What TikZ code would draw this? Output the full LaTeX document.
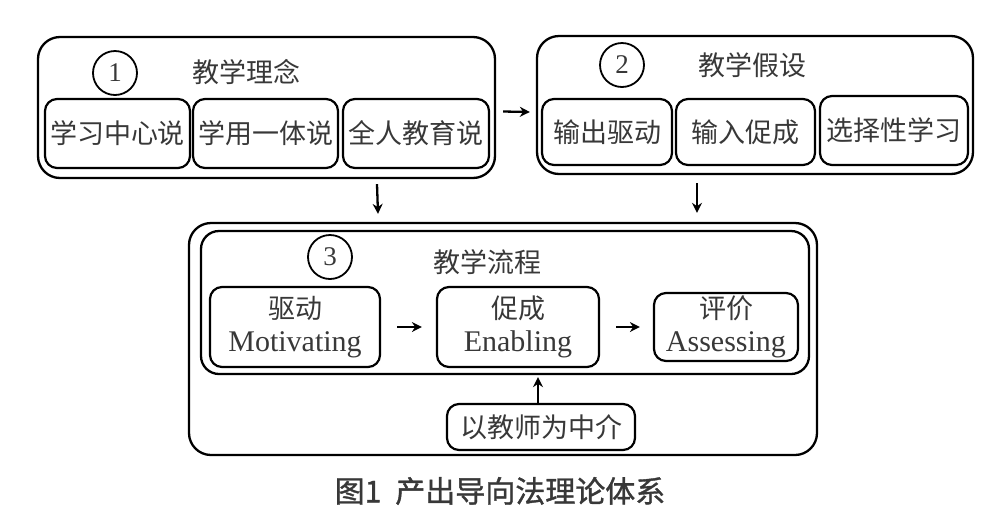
\documentclass[tikz,border=0pt]{standalone}
\usepackage{fontspec}
\setmainfont{Liberation Serif}
\newfontfamily\cjk{Noto Sans CJK SC}
\newfontfamily\cjkcap[FakeBold=1.2]{Noto Sans CJK SC}
\usetikzlibrary{arrows.meta}
\definecolor{txt}{HTML}{383838}
\tikzset{
  outerbox/.style={draw, line width=2.3pt, rounded corners=22pt, inner sep=0pt},
  subbox/.style={draw, line width=2.2pt, rounded corners=12pt, inner sep=0pt, text=txt,
    font=\cjk\fontsize{27}{30}\selectfont},
  flowbox/.style={draw, line width=2.2pt, rounded corners=12pt, inner sep=0pt, text=txt,
    align=center, font=\fontsize{30}{33}\selectfont},
  numcirc/.style={circle, draw, line width=1.8pt, minimum size=44pt, inner sep=0pt, text=txt,
    font=\fontsize{27}{27}\selectfont},
  ttl/.style={text=txt, inner sep=0pt, font=\cjk\fontsize{27}{30}\selectfont},
  arr/.style={-{Stealth[length=10pt,width=10pt]}, line width=2.3pt},
}
\begin{document}
\begin{tikzpicture}[x=1pt,y=-1pt]
\useasboundingbox (0,0) rectangle (997,515);
% box 1
\node[outerbox, minimum width=457pt, minimum height=141pt] (b1) at (266.5,107.5) {};
\node[numcirc] (c1) at (115,73) {1};
\node[ttl] (t1) at (246,72) {教学理念};
\node[subbox, minimum width=145pt, minimum height=69pt] (s1) at (117.5,133.5) {学习中心说};
\node[subbox, minimum width=145pt, minimum height=69pt] (s2) at (265.5,133.5) {学用一体说};
\node[subbox, minimum width=146pt, minimum height=69pt] (s3) at (416,133.5) {全人教育说};
% box 2
\node[outerbox, minimum width=436pt, minimum height=138pt] (b2) at (755,105) {};
\node[numcirc] (c2) at (622,65) {2};
\node[ttl] (t2) at (752,65) {教学假设};
\node[subbox, minimum width=130pt, minimum height=66pt] (s4) at (607,132) {输出驱动};
\node[subbox, minimum width=139pt, minimum height=66pt] (s5) at (745.5,132) {输入促成};
\node[subbox, minimum width=148pt, minimum height=69pt] (s6) at (894,130.5) {选择性学习};
% box 3
\node[outerbox, minimum width=628pt, minimum height=232pt] (b3) at (503,339) {};
\node[outerbox, rounded corners=18pt, minimum width=608pt, minimum height=143pt] (in3) at (505,302.5) {};
\node[numcirc] (c3) at (330,257) {3};
\node[ttl] (t3) at (487,262) {教学流程};
\node[flowbox, minimum width=170pt, minimum height=80pt] (m) at (295,327) {{\cjk\fontsize{27}{30}\selectfont 驱动}\\Motivating};
\node[flowbox, minimum width=162pt, minimum height=80pt] (e) at (518,327) {{\cjk\fontsize{27}{30}\selectfont 促成}\\Enabling};
\node[flowbox, minimum width=144pt, minimum height=68pt] (a) at (726,327) {{\cjk\fontsize{27}{30}\selectfont 评价}\\Assessing};
\node[subbox, minimum width=188pt, minimum height=46pt] (tm) at (541,427) {以教师为中介};
% caption
\node[text=txt, inner sep=0pt, font=\cjkcap\fontsize{30}{32}\selectfont] (cap) at (500,491) {图1\hspace{14pt}产出导向法理论体系};
% connectors
\draw[arr] ([xshift=7pt,yshift=-4pt]b1.east) -- ([xshift=-6pt,yshift=-7pt]b2.west);
\draw[arr] ([xshift=110.5pt,yshift=-5pt]b1.south) -- ([xshift=-125pt,yshift=8pt]b3.north);
\draw[arr] ([xshift=-58pt,yshift=-8pt]b2.south) -- ([xshift=194pt,yshift=9pt]b3.north);
\draw[arr, shorten <=16pt, shorten >=14pt] (m) -- (e);
\draw[arr, shorten <=16pt, shorten >=13pt] (e) -- (a);
\draw[arr, line width=1.8pt] ([xshift=-3pt]tm.north) -- ([xshift=-3pt,yshift=-2pt]tm.north |- in3.south);
\end{tikzpicture}
\end{document}
